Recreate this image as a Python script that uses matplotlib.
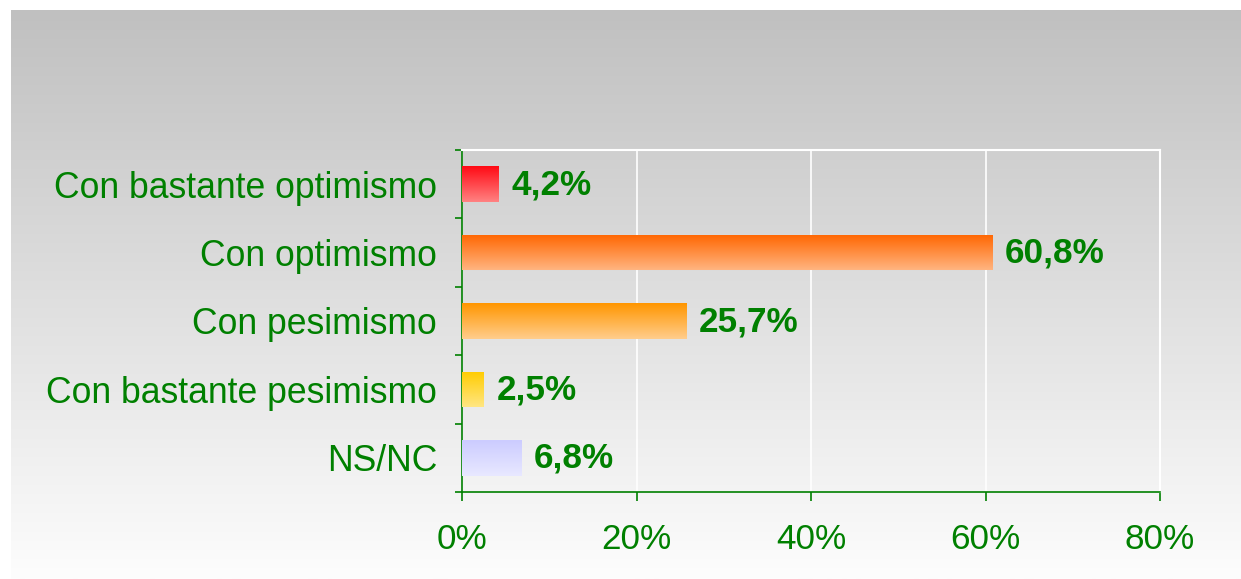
import numpy as np
import matplotlib
matplotlib.use("Agg")
import matplotlib.pyplot as plt

categories = ["Con bastante optimismo", "Con optimismo", "Con pesimismo",
              "Con bastante pesimismo", "NS/NC"]
values = [4.2, 60.8, 25.7, 2.5, 6.8]
value_labels = ["4,2%", "60,8%", "25,7%", "2,5%", "6,8%"]
xticks = [0, 20, 40, 60, 80]
xtick_labels = ["0%", "20%", "40%", "60%", "80%"]

top_colors = [(255, 10, 20), (255, 102, 0), (255, 150, 0), (255, 204, 0), (204, 204, 255)]
bot_colors = [(255, 130, 130), (255, 180, 128), (255, 205, 140), (255, 230, 130), (232, 232, 255)]

GREEN = "#008000"
plt.rcParams['font.family'] = ['Liberation Sans', 'DejaVu Sans']

W, H = 1241, 579
fig = plt.figure(figsize=(W / 100, H / 100), dpi=100, facecolor="white")

# background gradient panel
bg = fig.add_axes([11 / W, 0, 1 - 11 / W, 1 - 10 / H])
bg.set_axis_off()
grad = np.linspace(192, 253, 256) / 255.0
img = np.repeat(grad[:, None, None], 3, axis=2)
bg.imshow(img, aspect="auto", extent=(0, 1, 0, 1), origin="upper")
bg.set_xlim(0, 1)
bg.set_ylim(0, 1)

x0, x1 = 462, 1160
y0, y1 = 150, 492
ax = fig.add_axes([x0 / W, (H - y1) / H, (x1 - x0) / W, (y1 - y0) / H])
ax.patch.set_alpha(0)

n = len(categories)
ypos = np.arange(n)
bar_h = 0.52
bars = ax.barh(ypos, values, height=bar_h, color="none", edgecolor="none", zorder=3)
for i, patch in enumerate(bars.patches):
    t = np.array(top_colors[i]) / 255.0
    b = np.array(bot_colors[i]) / 255.0
    s = np.linspace(0, 1, 64)[:, None]
    g = (t[None, :] * (1 - s) + b[None, :] * s)[:, None, :]
    im = ax.imshow(g, aspect="auto", origin="upper",
                   extent=(0, values[i], ypos[i] + bar_h / 2, ypos[i] - bar_h / 2),
                   zorder=3, interpolation="bilinear")
    im.set_clip_path(patch)
    ax.annotate(value_labels[i], xy=(values[i], ypos[i]), xytext=(9, -0.4),
                textcoords="offset points", va="center", ha="left",
                fontsize=25.3, fontweight="bold", color=GREEN, zorder=4)

ax.set_xlim(0, 80)
ax.set_ylim(n - 0.5, -0.5)

ax.set_xticks(xticks)
ax.set_xticklabels(xtick_labels)
ax.set_yticks(ypos)
ax.set_yticklabels(categories)
ax.set_yticks(np.arange(-0.5, n, 1), minor=True)

ax.tick_params(axis="x", which="major", direction="out", length=6.5, width=1.2,
               color=GREEN, labelcolor=GREEN, labelsize=25.3, pad=16)
ax.tick_params(axis="y", which="major", length=0, labelcolor=GREEN,
               labelsize=25.6, pad=18)
ax.tick_params(axis="y", which="minor", direction="out", length=5, width=1.2,
               color=GREEN)

ax.grid(axis="x", color="white", linewidth=1.2, zorder=1)
ax.set_axisbelow(True)
for side in ["left", "bottom"]:
    ax.spines[side].set_color(GREEN)
    ax.spines[side].set_linewidth(1.2)
for side in ["top", "right"]:
    ax.spines[side].set_color("white")
    ax.spines[side].set_linewidth(1.5)

fig.savefig("out.png", dpi=100, facecolor="white")
